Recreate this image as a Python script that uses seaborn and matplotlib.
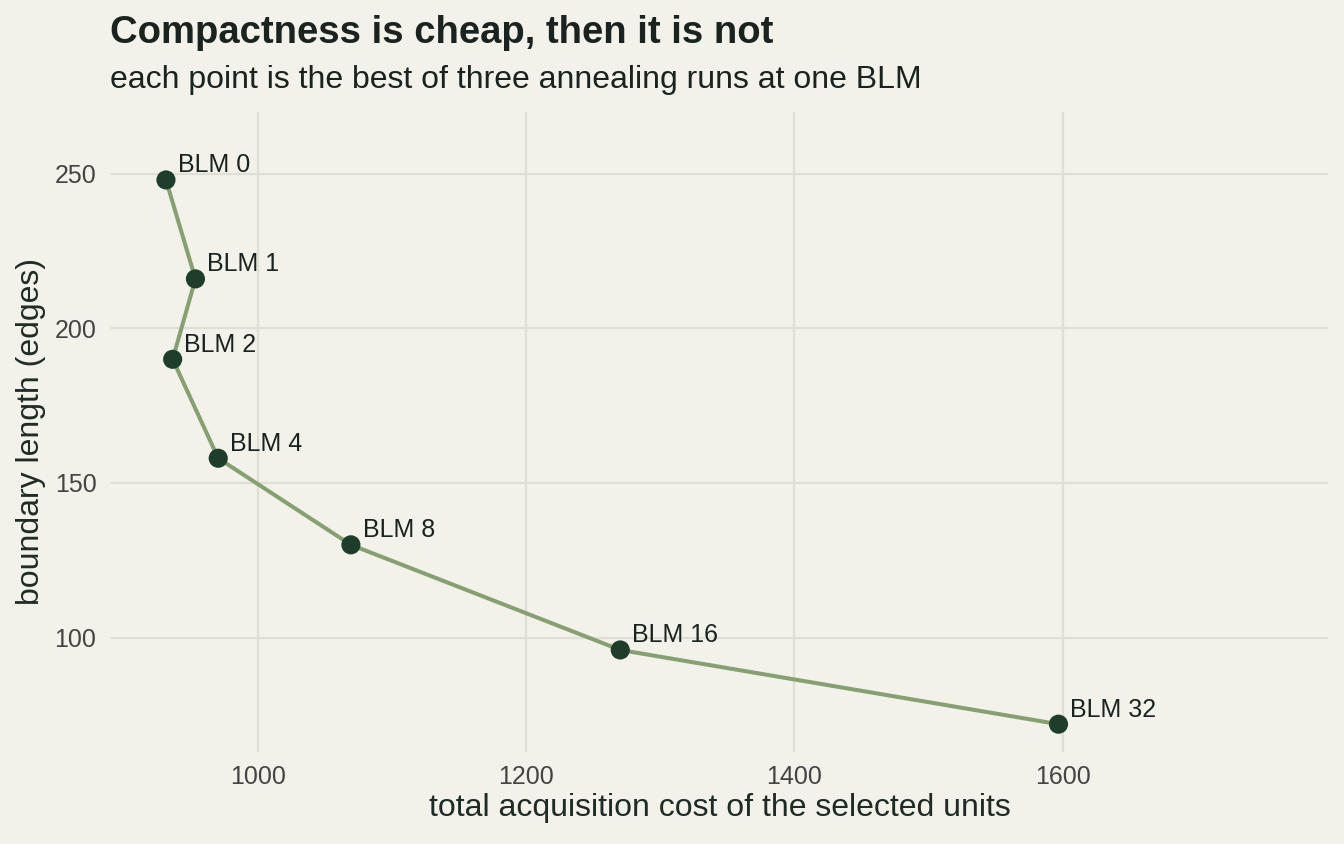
import numpy as np
import pandas as pd
import matplotlib
matplotlib.use("Agg")
import matplotlib.pyplot as plt
import seaborn as sns

# ---- data ----
blm = [0, 1, 2, 4, 8, 16, 32]
cost = [931, 953, 936, 970, 1069, 1270, 1597]
boundary = [248, 216, 190, 158, 130, 96, 72]

BG = "#F2F1EA"
GRID = "#E0DFD5"
LINE = "#87A072"
POINT = "#1E3D2B"
TEXT = "#1A2320"

sns.set_theme(style="white")
plt.rcParams["font.family"] = ["Liberation Sans", "DejaVu Sans"]

df = pd.DataFrame({"blm": blm, "cost": cost, "boundary": boundary})
df["label"] = ["BLM %d" % b for b in df["blm"]]

fig = plt.figure(figsize=(13.44, 8.44), dpi=100, facecolor=BG)
ax = fig.add_axes([0.0826, 0.109, 0.9054, 0.7584])
ax.set_facecolor(BG)

sns.lineplot(data=df, x="cost", y="boundary", sort=False, color=LINE,
             linewidth=2.9, ax=ax, zorder=2)
sns.scatterplot(data=df, x="cost", y="boundary", color=POINT, s=190,
                edgecolor="none", ax=ax, zorder=3)

for _, r in df.iterrows():
    ax.annotate(r["label"], (r["cost"], r["boundary"]), xytext=(8.5, 5.5),
                textcoords="offset points", fontsize=18, color=TEXT,
                va="baseline", ha="left")

ax.set_xlim(890, 1798)
ax.set_ylim(63, 270)
ax.set_xticks([1000, 1200, 1400, 1600])
ax.set_yticks([100, 150, 200, 250])
ax.grid(True, color=GRID, linewidth=1.6)
ax.set_axisbelow(True)
for s in ax.spines.values():
    s.set_visible(False)
ax.tick_params(length=0, labelsize=18, labelcolor="#444444")
ax.tick_params(axis="x", pad=9)
ax.tick_params(axis="y", pad=10.5)

ax.set_xlabel("total acquisition cost of the selected units", fontsize=23,
              color="#1F2B25", labelpad=3)
ax.set_ylabel("boundary length (edges)", fontsize=23, color="#1F2B25",
              labelpad=6)

fig.text(0.0818, 0.949, "Compactness is cheap, then it is not", fontsize=27.5,
         fontweight="bold", color=TEXT, ha="left", va="baseline")
fig.text(0.0818, 0.896, "each point is the best of three annealing runs at one BLM",
         fontsize=23, color=TEXT, ha="left", va="baseline")

fig.savefig("out.png", dpi=100, facecolor=BG)
